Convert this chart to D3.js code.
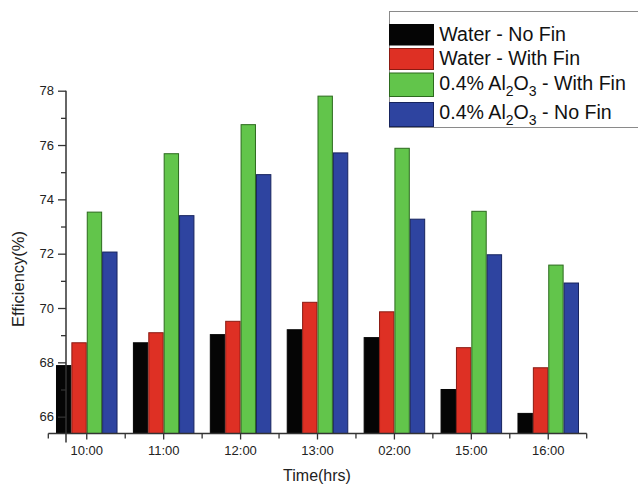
<!DOCTYPE html>
<html>
<head>
<meta charset="utf-8">
<script src="https://cdn.jsdelivr.net/npm/d3@7/dist/d3.min.js"></script>
<style>
html,body{margin:0;padding:0;background:#fff;}
svg{display:block;font-family:"Liberation Sans",Arial,Helvetica,sans-serif;}
</style>
</head>
<body>
<svg id="chart" width="638" height="486"></svg>
<script>
// ---- data ----
const times = ["10:00","11:00","12:00","13:00","02:00","15:00","16:00"];
const seriesNames = ["Water - No Fin","Water - With Fin","0.4% Al2O3 - With Fin","0.4% Al2O3 - No Fin"];
const waterNoFin   = [67.88, 68.72, 69.02, 69.20, 68.91, 67.00, 66.12];
const waterWithFin = [68.72, 69.09, 69.51, 70.21, 69.86, 68.54, 67.80];
const alWithFin    = [73.53, 75.68, 76.75, 77.80, 75.88, 73.56, 71.58];
const alNoFin      = [72.06, 73.40, 74.91, 75.71, 73.27, 71.96, 70.92];
const yTicks = [66,67,68,69,70,71,72,73,74,75,76,77,78];
const yMin = 65.38, yMax = 78;

const seriesValues = [waterNoFin, waterWithFin, alWithFin, alNoFin];
const fills   = ["#050505","#de3024","#62c54b","#2e44a0"];
const strokes = ["#050505","#8a1a12","#2c6a1e","#17245e"];

const svg = d3.select("#chart");

const x = d3.scaleBand().domain(times).range([48.3, 586.7]).paddingInner(0).paddingOuter(0);
const xs = d3.scaleBand().domain(d3.range(4)).range([0, x.bandwidth()]).paddingInner(0).paddingOuter(0.5);
const y = d3.scaleLinear().domain([yMin, yMax]).range([433.5, 90.7]);
const axisX = 66;
const baseY = y(yMin);

// bars
const groups = svg.append("g").selectAll("g").data(times).join("g")
  .attr("transform", d => `translate(${x(d)},0)`);
groups.selectAll("rect").data((d,i) => seriesValues.map((s,k) => ({k, v: s[i]}))).join("rect")
  .attr("x", d => xs(d.k) + 0.5)
  .attr("width", xs.bandwidth() - 1)
  .attr("y", d => y(d.v))
  .attr("height", d => baseY - y(d.v))
  .attr("fill", d => fills[d.k])
  .attr("stroke", d => strokes[d.k])
  .attr("stroke-width", 1);

// y axis
const yAxisG = svg.append("g").attr("transform", `translate(${axisX},0)`)
  .call(d3.axisLeft(y).tickValues(yTicks).tickSize(8).tickPadding(4).tickFormat(d => d % 2 === 0 ? d : ""));
yAxisG.select(".domain").remove();
yAxisG.selectAll(".tick line").attr("x2", d => d % 2 === 0 ? -8 : -5).attr("stroke", "#333").attr("stroke-width", 1.3);
yAxisG.selectAll(".tick text").attr("font-size", 13).attr("fill", "#222").attr("font-family", "Liberation Sans, Arial, sans-serif");
svg.append("line").attr("x1", axisX).attr("x2", axisX).attr("y1", y(yMax)).attr("y2", baseY + 9)
  .attr("stroke", "#333").attr("stroke-width", 1.5);

// x axis
const xAxisG = svg.append("g").attr("transform", `translate(0,${baseY})`)
  .call(d3.axisBottom(x).tickSize(6).tickPadding(6.5));
xAxisG.select(".domain").attr("d", `M${x.range()[0]},0H${x.range()[1]}`).attr("stroke", "#333").attr("stroke-width", 1.5);
xAxisG.selectAll(".tick line").attr("stroke", "#333").attr("stroke-width", 1.3);
xAxisG.selectAll(".tick text").attr("font-size", 13).attr("fill", "#222").attr("font-family", "Liberation Sans, Arial, sans-serif");
// boundary ticks
const bounds = times.map(t => x(t)).concat([x.range()[1]]);
xAxisG.selectAll("line.minor").data(bounds).join("line").attr("class", "minor")
  .attr("x1", d => d).attr("x2", d => d).attr("y1", 0).attr("y2", 5)
  .attr("stroke", "#333").attr("stroke-width", 1.3);

// axis titles
svg.append("text").attr("x", 317).attr("y", 481).attr("text-anchor", "middle")
  .attr("font-size", 16).attr("fill", "#222").text("Time(hrs)");
svg.append("text").attr("transform", "translate(23.5,279) rotate(-90)").attr("text-anchor", "middle")
  .attr("font-size", 16.5).attr("fill", "#222").text("Efficiency(%)");

// legend
const lg = svg.append("g");
lg.append("rect").attr("x", 389.5).attr("y", 11.5).attr("width", 260).attr("height", 116)
  .attr("fill", "#fff").attr("stroke", "#8a8a8a").attr("stroke-width", 1);
const swatchY = [24.5, 48.5, 73, 102.5];
const swatchH = [20.5, 21, 23.5, 24];
const textY = [41, 65.3, 90, 119.3];
seriesNames.forEach((name, k) => {
  lg.append("rect").attr("x", 389.5).attr("y", swatchY[k]).attr("width", 44).attr("height", swatchH[k])
    .attr("fill", fills[k]).attr("stroke", strokes[k]).attr("stroke-width", 1);
  const t = lg.append("text").attr("x", 439.3).attr("y", textY[k]).attr("font-size", 19.6).attr("fill", "#111");
  const m = name.match(/^(.*Al)2O3(.*)$/);
  if (m) {
    t.append("tspan").text(m[1]);
    t.append("tspan").attr("font-size", 14).attr("dy", 5.5).text("2");
    t.append("tspan").attr("dy", -5.5).text("O");
    t.append("tspan").attr("font-size", 14).attr("dy", 5.5).text("3");
    t.append("tspan").attr("dy", -5.5).text(m[2]);
  } else {
    t.text(name);
  }
});
</script>
</body>
</html>
